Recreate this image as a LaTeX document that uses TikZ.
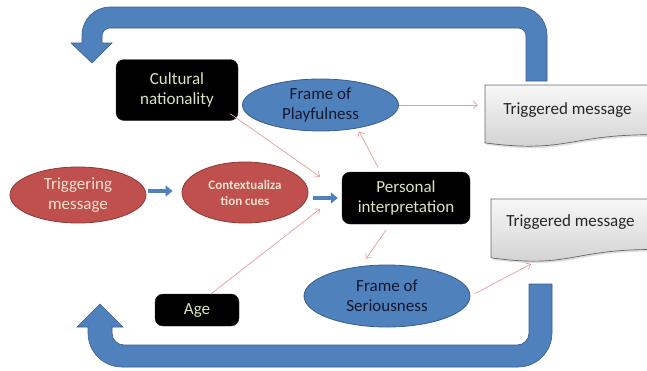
\documentclass[tikz,border=0pt]{standalone}
\usepackage{fontspec}
\setmainfont{Carlito}
\usetikzlibrary{arrows.meta,shapes.geometric,shadows,calc}
\definecolor{blueF}{HTML}{4F81BD}
\definecolor{blueD}{HTML}{385D8A}
\definecolor{redF}{HTML}{C0504D}
\definecolor{redD}{HTML}{8C3836}
\definecolor{connC}{HTML}{E39E9B}
\definecolor{txtG}{HTML}{D7E4BD}
\definecolor{txtR}{HTML}{F2E2D0}
\definecolor{txtB}{HTML}{141830}
\definecolor{txtD}{HTML}{262626}
\begin{document}
\begin{tikzpicture}[x=1pt,y=1pt,
  blackbox/.style={draw=black!85, fill=black, rounded corners=8pt, text=txtG, align=center, inner sep=0pt, font=\fontsize{17}{20}\selectfont},
  blueell/.style={ellipse, draw=blueD, line width=0.8pt, fill=blueF, text=txtB, align=center, inner sep=-6pt, font=\fontsize{17}{20}\selectfont},
  redell/.style={ellipse, draw=redD, line width=0.8pt, fill=redF, text=txtR, align=center, inner sep=-6pt},
  docshape/.style={draw=black!60, line width=0.7pt, top color=gray!6, bottom color=gray!38, drop shadow={opacity=0.25, shadow xshift=1.5pt, shadow yshift=-2pt}},
  doctext/.style={text=txtD, inner sep=0pt, minimum height=40pt, font=\fontsize{17}{20}\selectfont},
  conn/.style={draw=connC, line width=0.7pt, -{Straight Barb[length=4pt,width=7pt]}},
  bluearr/.style={draw=blueF, line width=4.5pt, -{Triangle[length=7pt,width=11pt]}},
  bigarrow/.style={fill=blueF, draw=blueD, line width=0.6pt}
]
\useasboundingbox (0,0) rectangle (647,-370);
\clip (0,0) rectangle (647,-370);

% big U arrows
\path[bigarrow] (547,-81) -- (547,-35) arc[start angle=0,end angle=90,radius=28]
  -- (110,-7) arc[start angle=90,end angle=180,radius=28]
  -- (82,-43) -- (71,-43) -- (92,-63) -- (112,-43) -- (102,-43) -- (102,-36)
  arc[start angle=180,end angle=90,radius=8] -- (518,-28)
  arc[start angle=90,end angle=0,radius=8] -- (526,-81) -- cycle;
\path[bigarrow] (552,-284) -- (552,-333) arc[start angle=0,end angle=-90,radius=34]
  -- (122,-367) arc[start angle=270,end angle=180,radius=34]
  -- (88,-327) -- (77,-327) -- (100,-304) -- (123,-327) -- (112,-327) -- (112,-333)
  arc[start angle=180,end angle=270,radius=12] -- (517,-345)
  arc[start angle=270,end angle=360,radius=12] -- (529,-284) -- cycle;

% document shapes
\path[docshape] (485,-85) -- (652,-85) -- (652,-134.7) .. controls (567.5,-134.7) and (567.5,-153.6) .. (485,-142.9) -- cycle;
\path[docshape] (491,-199) -- (652,-199) -- (652,-249.5) .. controls (570.5,-249.5) and (570.5,-268.7) .. (491,-257.8) -- cycle;
\node[doctext, minimum width=165pt] (trigA) at (567.5,-110) {Triggered message};
\node[doctext, minimum width=159pt] (trigB) at (570.5,-222) {Triggered message};

% nodes
\node[blackbox, minimum width=122pt, minimum height=61pt] (cult) at (177,-90) {Cultural\\nationality};
\node[blackbox, minimum width=128pt, minimum height=52pt] (pers) at (406,-198) {Personal\\interpretation};
\node[blackbox, minimum width=84pt, minimum height=32pt] (age) at (197,-310) {Age};
\node[blueell, minimum width=156pt, minimum height=52pt] (play) at (320.5,-105) {Frame of\\Playfulness};
\node[blueell, minimum width=166pt, minimum height=62pt] (seri) at (387,-296) {Frame of\\Seriousness};
\node[redell, minimum width=136pt, minimum height=56pt, font=\fontsize{17}{20}\selectfont] (trig) at (78,-195) {Triggering\\message};
\node[redell, minimum width=126pt, minimum height=61pt, font=\bfseries\fontsize{13}{16}\selectfont] (ctx) at (245,-192.5) {Contextualiza\\tion cues};

% blue arrows
\draw[bluearr, shorten <=2pt, shorten >=9pt] ([yshift=4pt]trig.east) coordinate (b1) -- (b1 -| ctx.west);
\draw[bluearr, shorten <=5pt, shorten >=4pt] (ctx.east |- pers.west) -- (pers.west);

% connectors
\coordinate (sEnd) at (531,-264);
\draw[conn, shorten >=26.5pt] ([shift={(-8pt,7pt)}]cult.south east) -- ([yshift=6pt]pers.west);
\draw[conn, shorten >=27.5pt] ([xshift=14pt]age.north) -- ([yshift=6pt]pers.west);
\draw[conn, shorten <=5pt] ([xshift=-25.5pt]pers.north) -- ([xshift=38.5pt]play.south);
\draw[conn, shorten >=7pt] (play.east) -- (play.east -| trigA.west);
\draw[conn, shorten <=7pt, shorten >=7pt] ([xshift=-16pt]pers.south) -- ([xshift=-25pt]seri.north);
\draw[conn, shorten <=5pt] (seri.east) -- (sEnd);
\end{tikzpicture}
\end{document}
